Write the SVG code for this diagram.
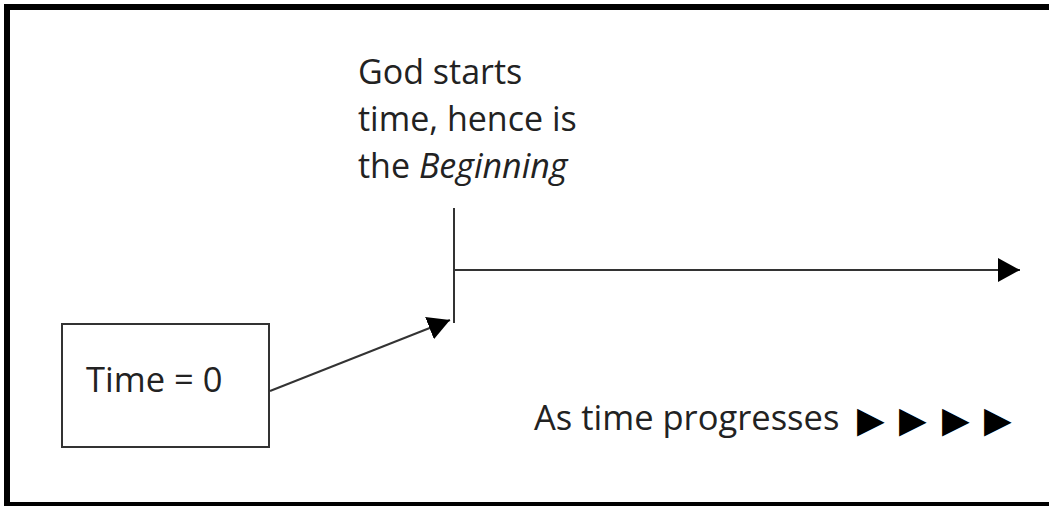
<svg xmlns="http://www.w3.org/2000/svg" width="1049" height="506" viewBox="0 0 1049 506">
  <style>
    .lbl { font-family: "Open Sans", "Noto Sans", sans-serif; font-size: 34px; fill: #222; }
    .big { font-size: 34.5px; }
    .tri { font-family: "DejaVu Sans", sans-serif; font-size: 36px; fill: #000; }
    .ln { stroke: #333; stroke-width: 2; fill: none; }
  </style>
  <defs>
    <marker id="head" markerWidth="11" markerHeight="12" refX="11" refY="6" orient="auto" markerUnits="strokeWidth">
      <path d="M0,0 L11,6 L0,12 Z" fill="#000"/>
    </marker>
  </defs>
  <rect x="0" y="0" width="1049" height="506" fill="#fff"/>
  <!-- outer frame -->
  <rect id="frame" x="7" y="7" width="1060" height="498" fill="none" stroke="#000" stroke-width="6"/>

  <g id="start-box">
    <rect x="62" y="324" width="207" height="123" fill="#fff" stroke="#333" stroke-width="2"/>
    <text class="lbl big" x="86" y="392">Time = 0</text>
  </g>

  <g id="beginning-note">
    <text class="lbl" x="358" y="84">God starts</text>
    <text class="lbl" x="358" y="131">time, hence is</text>
    <text class="lbl" x="358" y="178">the <tspan font-style="italic">Beginning</tspan></text>
  </g>

  <g id="progress-note">
    <text class="lbl big" x="534" y="430">As time progresses</text>
    <text class="tri" y="432"><tspan x="857">▶</tspan><tspan x="899">▶</tspan><tspan x="942">▶</tspan><tspan x="984">▶</tspan></text>
  </g>

  <g id="connectors">
    <line class="ln" x1="454" y1="208" x2="454" y2="323"/>
    <line class="ln" x1="454" y1="270" x2="1020" y2="270" marker-end="url(#head)"/>
    <line class="ln" x1="270" y1="391" x2="450" y2="320" marker-end="url(#head)"/>
  </g>
</svg>
